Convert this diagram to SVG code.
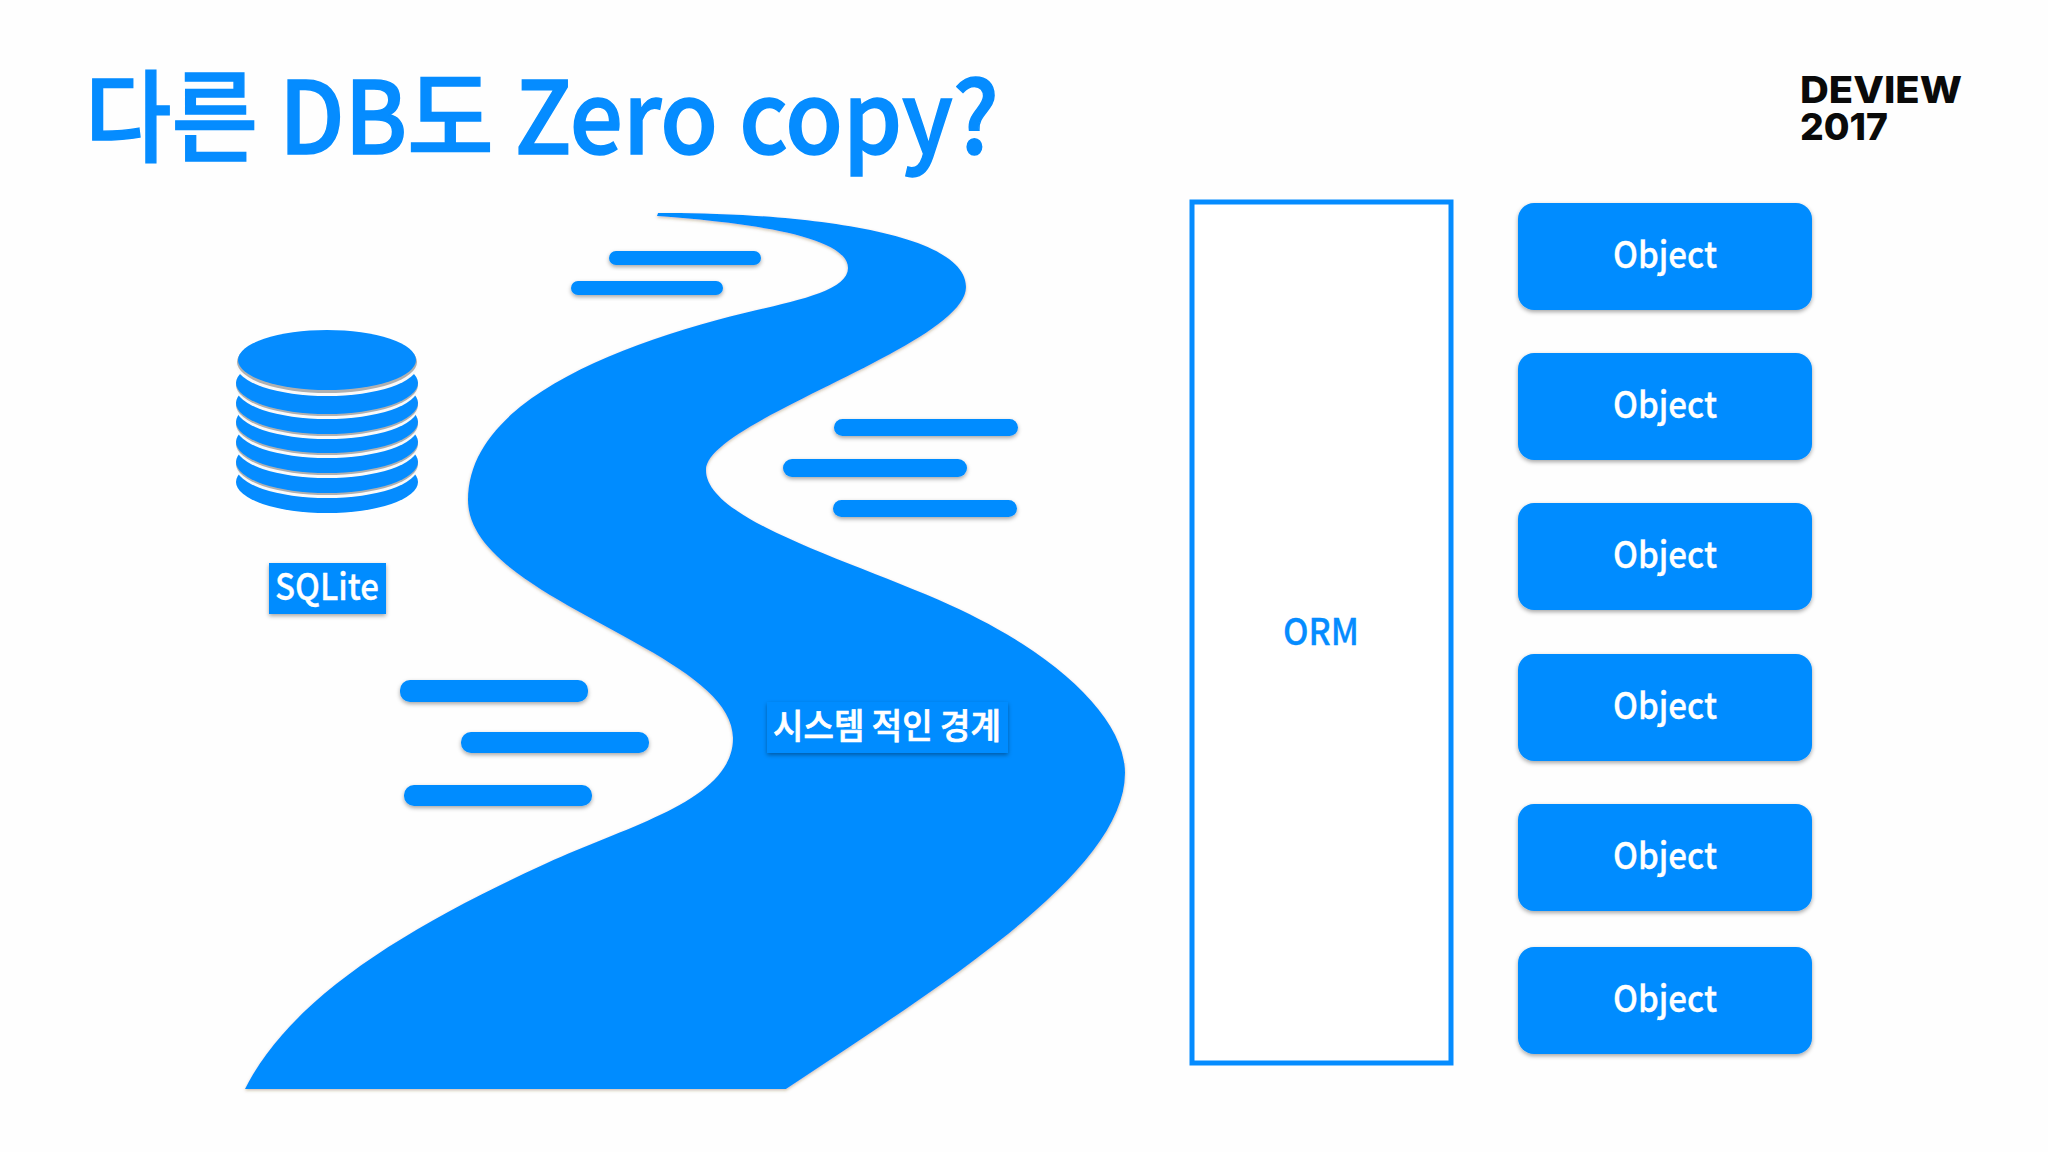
<svg xmlns="http://www.w3.org/2000/svg" width="2048" height="1152" viewBox="0 0 2048 1152">
<defs>
<filter id="sh" x="-10%" y="-30%" width="120%" height="170%"><feDropShadow dx="0" dy="2" stdDeviation="2" flood-color="#000" flood-opacity="0.35"/></filter>
<filter id="shs" x="-5%" y="-5%" width="110%" height="110%"><feDropShadow dx="0" dy="1.5" stdDeviation="1.5" flood-color="#6b4a20" flood-opacity="0.35"/></filter>
</defs>
<style>
text{font-family:"Noto Sans CJK KR","Noto Sans",sans-serif}
.b{fill:#058cff}
.bar{fill:#058cff;filter:url(#sh)}
.obj rect{fill:#058cff;filter:url(#sh)}
.obj text,.w{fill:#fff;stroke:#fff;stroke-width:0.3px;font-size:37px;text-anchor:middle;font-weight:500}
.g{fill:#b0b0b0}.wh{fill:#fafafa}
.logo{font-family:Inter,"Liberation Sans",sans-serif;font-weight:800;font-size:37px;fill:#0a0a0a}
</style>
<rect width="2048" height="1152" fill="#fefefe"/>
<text id="title" x="85" y="154" font-size="100" font-weight="500" fill="#058cff" stroke="#058cff" stroke-width="1.5" textLength="914" lengthAdjust="spacingAndGlyphs">다른 DB도 Zero copy?</text>
<g id="logo"><text class="logo" x="1800" y="103" textLength="162" lengthAdjust="spacingAndGlyphs">DEVIEW</text><text class="logo" x="1800" y="140" textLength="88" lengthAdjust="spacingAndGlyphs">2017</text></g>
<g id="river">
<path class="b" filter="url(#shs)" d="M658 213C760 212 966 225 966 287C966 345 706 421 706 470C706 520 850 560 950 605C1050 650 1125 715 1125 773C1125 870 950 980 786 1089L245 1089C290 1000 400 930 547 863C630 825 733 800 733 738C733 650 468 600 468 500C468 410 590 355 717 320C775 304 848 295 848 268C848 235 740 222 657 216Z"/>
</g>
<g id="bars">
<rect class="bar" x="609" y="251" width="152" height="14" rx="7"/>
<rect class="bar" x="571" y="281" width="152" height="14" rx="7"/>
<rect class="bar" x="834" y="419" width="184" height="17" rx="8.5"/>
<rect class="bar" x="783" y="459" width="184" height="18" rx="9"/>
<rect class="bar" x="833" y="500" width="184" height="17" rx="8.5"/>
<rect class="bar" x="400" y="680" width="188" height="22" rx="10"/>
<rect class="bar" x="461" y="732" width="188" height="21" rx="10"/>
<rect class="bar" x="404" y="785" width="188" height="21" rx="10"/>
</g>
<g id="river-label"><rect class="b" filter="url(#sh)" x="767" y="702" width="241" height="51"/><text class="w" x="887" y="739" style="font-size:35px;stroke-width:0.7px" textLength="228" lengthAdjust="spacingAndGlyphs">시스템 적인 경계</text></g>
<g id="sqlite">
<ellipse class="b" cx="327" cy="482" rx="91" ry="31"/>
<ellipse class="wh" cx="327" cy="467" rx="91" ry="31"/><ellipse class="g" cx="327" cy="464" rx="91" ry="31"/><ellipse class="b" cx="327" cy="462" rx="91" ry="31"/>
<ellipse class="wh" cx="327" cy="447" rx="91" ry="31"/><ellipse class="g" cx="327" cy="444" rx="91" ry="31"/><ellipse class="b" cx="327" cy="442" rx="91" ry="31"/>
<ellipse class="wh" cx="327" cy="427" rx="91" ry="31"/><ellipse class="g" cx="327" cy="424" rx="91" ry="31"/><ellipse class="b" cx="327" cy="422" rx="91" ry="31"/>
<ellipse class="wh" cx="327" cy="408" rx="91" ry="31"/><ellipse class="g" cx="327" cy="405" rx="91" ry="31"/><ellipse class="b" cx="327" cy="403" rx="91" ry="31"/>
<ellipse class="wh" cx="327" cy="388" rx="91" ry="31"/><ellipse class="g" cx="327" cy="385" rx="91" ry="31"/><ellipse class="b" cx="327" cy="383" rx="91" ry="31"/>
<ellipse class="wh" cx="327" cy="365" rx="91" ry="31"/><ellipse class="g" cx="327" cy="362" rx="90" ry="31"/><ellipse class="b" cx="327" cy="360" rx="89" ry="30"/>
<rect class="b" filter="url(#sh)" x="269" y="563" width="117" height="51"/><text class="w" x="327" y="600" textLength="104" lengthAdjust="spacingAndGlyphs">SQLite</text>
</g>
<g id="orm"><rect x="1192" y="202" width="259" height="861" fill="#fff" stroke="#058cff" stroke-width="5"/><text x="1321" y="645" font-size="37" font-weight="500" fill="#058cff" stroke="#058cff" stroke-width="0.3" text-anchor="middle" textLength="76" lengthAdjust="spacingAndGlyphs">ORM</text></g>
<g id="obj1" class="obj"><rect x="1518" y="203" width="294" height="107" rx="16"/><text x="1665" y="268" textLength="104" lengthAdjust="spacingAndGlyphs">Object</text></g>
<g id="obj2" class="obj"><rect x="1518" y="353" width="294" height="107" rx="16"/><text x="1665" y="418" textLength="104" lengthAdjust="spacingAndGlyphs">Object</text></g>
<g id="obj3" class="obj"><rect x="1518" y="503" width="294" height="107" rx="16"/><text x="1665" y="568" textLength="104" lengthAdjust="spacingAndGlyphs">Object</text></g>
<g id="obj4" class="obj"><rect x="1518" y="654" width="294" height="107" rx="16"/><text x="1665" y="719" textLength="104" lengthAdjust="spacingAndGlyphs">Object</text></g>
<g id="obj5" class="obj"><rect x="1518" y="804" width="294" height="107" rx="16"/><text x="1665" y="869" textLength="104" lengthAdjust="spacingAndGlyphs">Object</text></g>
<g id="obj6" class="obj"><rect x="1518" y="947" width="294" height="107" rx="16"/><text x="1665" y="1012" textLength="104" lengthAdjust="spacingAndGlyphs">Object</text></g>
</svg>
